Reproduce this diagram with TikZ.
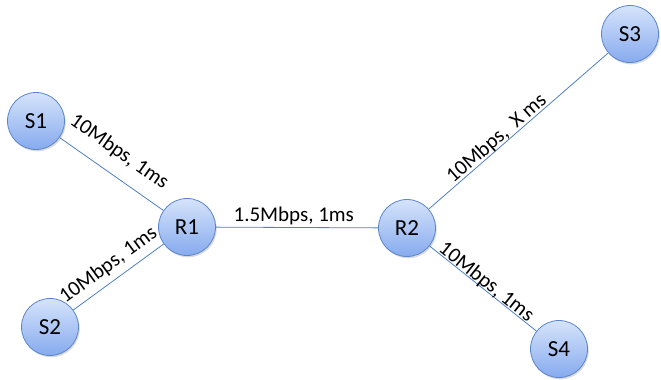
\documentclass[tikz,border=0pt]{standalone}
\usepackage{fontspec}
\setmainfont{Carlito}
\usetikzlibrary{shadows}
\definecolor{nodetop}{HTML}{D6E3FB}
\definecolor{nodebot}{HTML}{86ABEE}
\definecolor{nodeedge}{HTML}{5A86CC}
\definecolor{linkcol}{HTML}{4F7FC4}
\tikzset{
  host/.style={circle, minimum size=57pt, inner sep=0pt, draw=nodeedge, line width=0.8pt,
    top color=nodetop, bottom color=nodebot,
    drop shadow={shadow xshift=1.2pt, shadow yshift=-1.8pt, opacity=0.3},
    font=\fontsize{23}{26}\selectfont},
  link/.style={draw=linkcol, line width=0.8pt},
  lbl/.style={sloped, inner sep=0pt, font=\fontsize{21}{24}\selectfont}
}
\begin{document}
\begin{tikzpicture}[x=1pt, y=-1pt]
  \useasboundingbox (0,0) rectangle (661,380);
  % hosts and routers
  \node[host] (S1) at (36,121) {S1};
  \node[host] (S2) at (50,327) {S2};
  \node[host] (R1) at (187,227) {R1};
  \node[host] (R2) at (407,228) {R2};
  \node[host] (S3) at (630,34) {S3};
  \node[host] (S4) at (559,349) {S4};
  % links with bandwidth and delay
  \path[link] (S1) -- node[lbl, pos=0.45, above=13pt] {10Mbps, 1ms} (R1);
  \path[link] (S2) -- node[lbl, pos=0.49, above=6pt] {10Mbps, 1ms} (R1);
  \path[link] (R1) -- node[lbl, pos=0.48, above=2pt] {1.5Mbps, 1ms} (R2);
  \path[link] (R2) -- node[lbl, pos=0.41, above=-1pt] {10Mbps,\ \ X ms} (S3);
  \path[link] (R2) -- node[lbl, pos=0.49, above=-2.5pt] {10Mbps, 1ms} (S4);
\end{tikzpicture}
\end{document}
